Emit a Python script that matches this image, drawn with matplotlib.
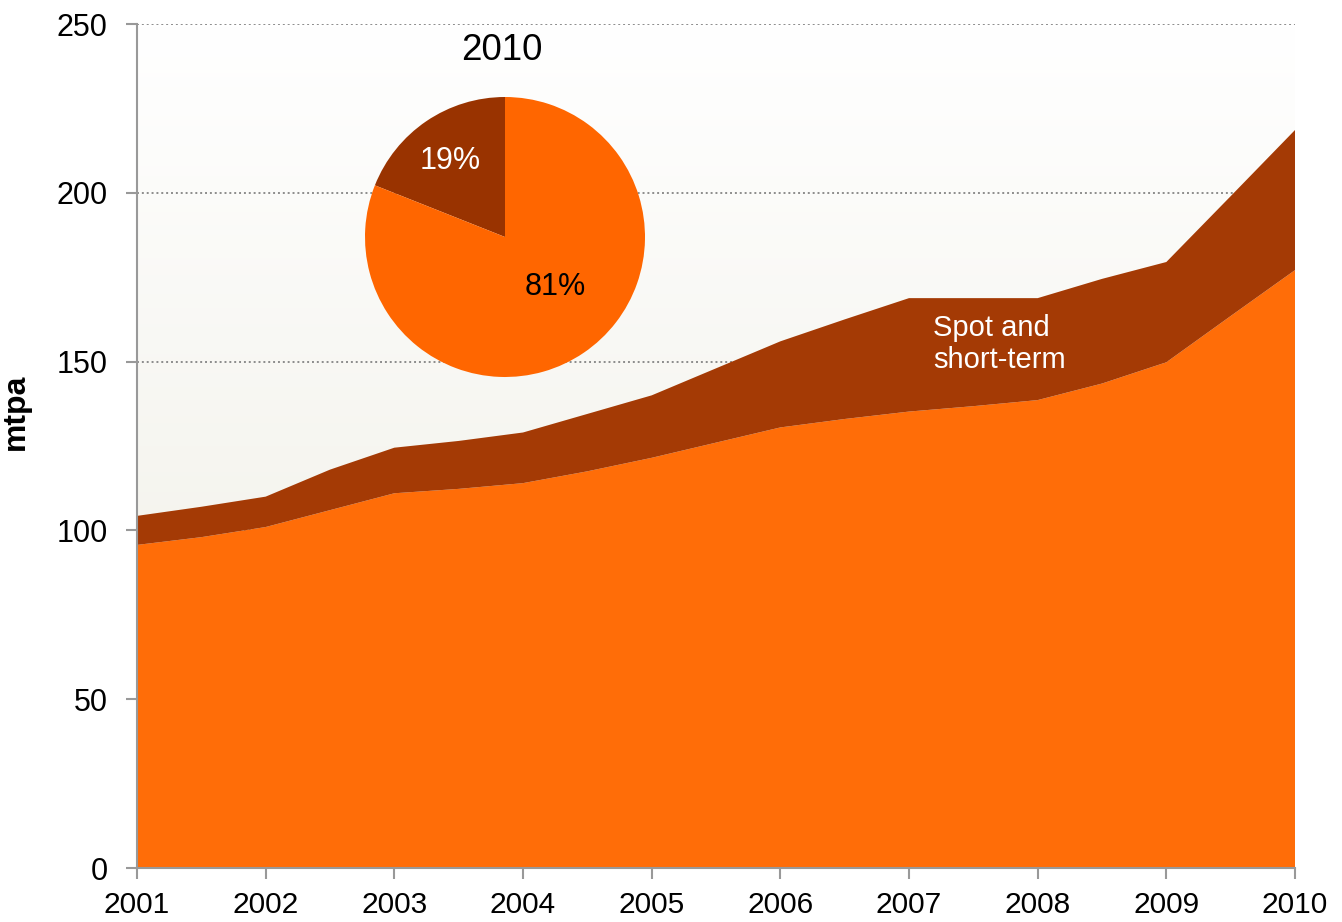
import numpy as np
import matplotlib
matplotlib.use("Agg")
import matplotlib.pyplot as plt
from matplotlib import font_manager
from matplotlib.colors import LinearSegmentedColormap

plt.rcParams['font.family'] = ['Liberation Sans', 'DejaVu Sans']

# LNG supply by contract type, mtpa (half-year steps)
years = [2001, 2001.5, 2002, 2002.5, 2003, 2003.5, 2004, 2004.5, 2005, 2005.5,
         2006, 2006.5, 2007, 2007.5, 2008, 2008.5, 2009, 2009.5, 2010]
long_term = [95.7, 98.0, 101.0, 106.0, 111.0, 112.3, 114.0, 117.5, 121.5, 126.0,
             130.5, 133.0, 135.2, 136.8, 138.6, 143.5, 149.8, 163.5, 177.1]
spot_short = [8.6, 9.0, 9.0, 12.0, 13.5, 14.2, 15.0, 17.0, 18.5, 22.0,
              25.5, 29.5, 33.6, 32.0, 30.2, 31.0, 29.7, 35.5, 41.5]
year_ticks = list(range(2001, 2011))
y_ticks = [0, 50, 100, 150, 200, 250]

c_long = '#FF6D08'
c_spot = '#A43A05'

names = {f.name for f in font_manager.fontManager.ttflist}
narrow = 'Liberation Sans Narrow' if 'Liberation Sans Narrow' in names else 'Liberation Sans'

fig = plt.figure(figsize=(13.42, 9.22), dpi=100)
ax = fig.add_axes([137 / 1342, 1 - 868 / 922, (1295 - 137) / 1342, (868 - 24) / 922])

# soft vertical gradient behind the plot
bg = LinearSegmentedColormap.from_list('bg', ['#EEEDE3', '#FFFFFF'])
grad = np.linspace(0, 1, 256).reshape(-1, 1)
ax.imshow(grad, cmap=bg, origin='lower', aspect='auto',
          extent=[2001, 2010, 0, 250], zorder=0)

for yv in y_ticks[1:]:
    ax.axhline(yv, color='#8C8C8C', lw=1.4, ls=(0, (1, 1.5)), zorder=1)

ax.stackplot(years, long_term, spot_short, colors=[c_long, c_spot],
             linewidth=0, zorder=2)

ax.set_xlim(2001, 2010)
ax.set_ylim(0, 250)
ax.set_xticks(year_ticks)
ax.set_xticklabels([str(y) for y in year_ticks], fontsize=21.5, family=narrow)
ax.set_yticks(y_ticks)
ax.set_yticklabels([str(y) for y in y_ticks], fontsize=22)
ax.tick_params(axis='x', length=8, width=1.5, color='#999999', pad=8.5)
ax.tick_params(axis='y', length=8, width=1.5, color='#999999', pad=13)
for side in ['top', 'right']:
    ax.spines[side].set_visible(False)
for side in ['left', 'bottom']:
    ax.spines[side].set_color('#999999')
    ax.spines[side].set_linewidth(1.5)
    ax.spines[side].set_zorder(3)
ax.set_ylabel('mtpa', fontsize=23, fontweight='bold')
ax.yaxis.set_label_coords(-0.092, 0.54)

ax.text(2007.19, 164, 'Spot and\nshort-term', color='white', fontsize=21,
        va='top', ha='left', linespacing=1.15, zorder=4)

# share of 2010 supply
share = [spot_short[-1], long_term[-1]]
total = sum(share)
pct = [f"{round(100 * v / total)}%" for v in share]
r = 140
pax = fig.add_axes([(505 - r) / 1342, 1 - (237 + r) / 922, 2 * r / 1342, 2 * r / 922])
pax.pie(share, colors=['#993300', '#FF6600'], startangle=90, counterclock=True,
        radius=1.0, wedgeprops=dict(linewidth=0))
pax.set_xlim(-1, 1)
pax.set_ylim(-1, 1)
pax.set_aspect('equal')
pax.text(-0.39, 0.54, pct[0], color='white', fontsize=22, ha='center', va='center')
pax.text(0.36, -0.36, pct[1], color='black', fontsize=22, ha='center', va='center')
fig.text(502 / 1342, 1 - 50 / 922, '2010', fontsize=26.5, ha='center', va='center')

fig.savefig('out.png', dpi=100)
